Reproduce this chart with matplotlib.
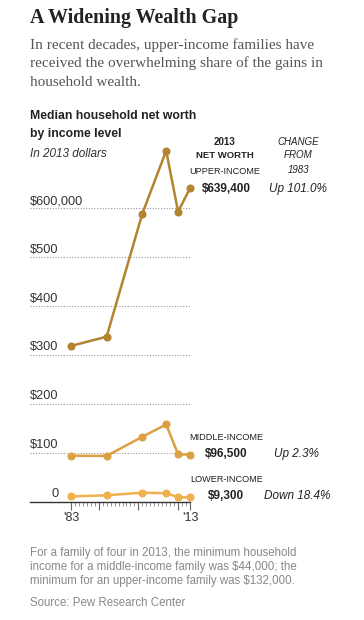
import matplotlib.pyplot as plt
from matplotlib.ticker import FixedLocator

W, H = 364, 620

years = [1983, 1992, 2001, 2007, 2010, 2013]
upper = [318100, 337000, 588000, 716000, 592000, 639400]
middle = [94300, 94000, 133000, 158000, 97300, 96500]
lower = [11400, 13600, 19000, 17800, 10000, 9300]

grid_vals = [100000, 200000, 300000, 400000, 500000, 600000]
grid_labels = ["$100", "$200", "$300", "$400", "$500", "$600,000"]

c_upper = "#b3832f"
c_middle = "#dba043"
c_lower = "#efb04e"

SANS = "Liberation Sans"
SERIF = "Liberation Serif"

fig = plt.figure(figsize=(W / 100, H / 100), dpi=100)


def fx(x):
    return x / W


def fy(y):
    return 1 - y / H


def txt(x, y, s, **kw):
    kw.setdefault("family", SANS)
    kw.setdefault("va", "center")
    fig.text(fx(x), fy(y), s, **kw)


# axes: x from 30 to 190 px, y from 139 to 502 px
ax = fig.add_axes([fx(30), fy(502), fx(190) - fx(30), (502 - 139) / H])
ax.set_xlim(1972.7, 2013)
ax.set_ylim(0, 740000)

for v in grid_vals:
    ax.axhline(v, color="#999999", lw=0.8, ls=(0, (1, 1.5)), zorder=1)

for vals, col in [(lower, c_lower), (middle, c_middle), (upper, c_upper)]:
    ax.plot(years, vals, color=col, lw=1.8, marker="o", ms=4.8, zorder=3,
            clip_on=False)

for s in ["top", "right", "left"]:
    ax.spines[s].set_visible(False)
ax.spines["bottom"].set_color("#333333")
ax.spines["bottom"].set_linewidth(1.0)
ax.set_yticks([])
ax.xaxis.set_major_locator(FixedLocator([1983, 1990, 2000, 2010, 2013]))
ax.xaxis.set_minor_locator(FixedLocator(list(range(1983, 2014))))
ax.tick_params(axis="x", which="major", length=6, width=0.8, color="#666666",
               labelbottom=False)
ax.tick_params(axis="x", which="minor", length=3, width=0.6, color="#888888")

# y labels
ylab_pos = {100000: 445, 200000: 396, 300000: 347, 400000: 299,
            500000: 250, 600000: 201}
for v, lab in zip(grid_vals, grid_labels):
    txt(30, ylab_pos[v], lab, fontsize=9.2, color="#333333")
txt(55, 494, "0", fontsize=9.2, color="#333333", ha="center")

txt(71, 518, "'83", fontsize=9, color="#333333", ha="center")
txt(190, 518, "'13", fontsize=9, color="#333333", ha="center")

# titles
txt(30, 18, "A Widening Wealth Gap", family=SERIF, fontsize=14.4,
    weight="bold", color="#222222")
sub = ["In recent decades, upper-income families have",
       "received the overwhelming share of the gains in",
       "household wealth."]
for i, s in enumerate(sub):
    txt(30, 45 + i * 18.5, s, family=SERIF, fontsize=11, color="#555555")

txt(30, 116, "Median household net worth", fontsize=8.8, weight="bold",
    color="#222222")
txt(30, 134, "by income level", fontsize=8.8, weight="bold", color="#222222")
txt(30, 154, "In 2013 dollars", fontsize=8.5, style="italic", color="#333333")

# right annotations
txt(225, 142, "2013", fontsize=7, weight="bold", ha="center", color="#222222")
txt(225, 155, "NET WORTH", fontsize=6.8, weight="bold", ha="center",
    color="#222222")
txt(225, 171, "UPPER-INCOME", fontsize=6.6, ha="center", color="#222222")
txt(226, 189, "$639,400", fontsize=8.5, weight="bold", ha="center",
    color="#222222")
txt(298, 142, "CHANGE", fontsize=7, style="italic", ha="center", color="#222222")
txt(298, 155, "FROM", fontsize=7, style="italic", ha="center", color="#222222")
txt(298, 170, "1983", fontsize=7, style="italic", ha="center", color="#222222")
txt(298, 189, "Up 101.0%", fontsize=8.5, style="italic", ha="center",
    color="#222222")

txt(189, 437, "MIDDLE-INCOME", fontsize=6.6, color="#222222")
txt(226, 454, "$96,500", fontsize=8.5, weight="bold", ha="center",
    color="#222222")
txt(296, 454, "Up 2.3%", fontsize=8.5, style="italic", ha="center",
    color="#222222")

txt(190, 479, "LOWER-INCOME", fontsize=6.6, color="#222222")
txt(226, 496, "$9,300", fontsize=8.5, weight="bold", ha="center",
    color="#222222")
txt(297, 496, "Down 18.4%", fontsize=8.5, style="italic", ha="center",
    color="#222222")

# footnote
notes = ["For a family of four in 2013, the minimum household",
         "income for a middle-income family was $44,000; the",
         "minimum for an upper-income family was $132,000."]
for i, s in enumerate(notes):
    txt(30, 553 + i * 14, s, fontsize=8.3, color="#888888")
txt(30, 603, "Source: Pew Research Center", fontsize=8.3, color="#888888")

fig.savefig("out.png", dpi=100, facecolor="white")
